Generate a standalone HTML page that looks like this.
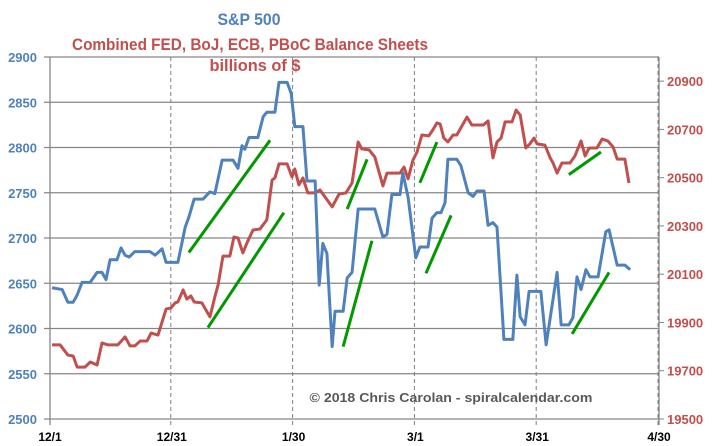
<!DOCTYPE html>
<html><head><meta charset="utf-8"><style>
html,body{margin:0;padding:0;background:#fff;}
svg{display:block;font-family:"Liberation Sans",sans-serif;}
</style></head><body>
<svg id="chart" width="724" height="446" viewBox="0 0 724 446">
<g id="grid"></g>
<g id="axes"></g>
<g id="series"></g>
<text x="249" y="25" text-anchor="middle" font-size="17" font-weight="bold" fill="#4f81bd" textLength="63" lengthAdjust="spacingAndGlyphs">S&amp;P 500</text>
<text x="250" y="50" text-anchor="middle" font-size="17" font-weight="bold" fill="#c0504d" textLength="356" lengthAdjust="spacingAndGlyphs">Combined FED, BoJ, ECB, PBoC Balance Sheets</text>
<text x="255" y="71" text-anchor="middle" font-size="17" font-weight="bold" fill="#c0504d" textLength="91" lengthAdjust="spacingAndGlyphs">billions of $</text>
<text x="451" y="402" text-anchor="middle" font-size="13" font-weight="bold" fill="#595959" textLength="283" lengthAdjust="spacingAndGlyphs">© 2018 Chris Carolan - spiralcalendar.com</text>
</svg>
<script>
const leftTicks=[2500,2550,2600,2650,2700,2750,2800,2850,2900];
const rightTicks=[19500,19700,19900,20100,20300,20500,20700,20900];
const xTickLabels=["12/1","12/31","1/30","3/1","3/31","4/30"];
const xTickDays=[0,30,60,90,120,150];
const spDays=[0.5,3,4.4,5.7,6.7,7.9,9.9,11.6,12.8,13.8,14.8,16.5,17.5,18.5,19.5,20.9,24.6,25.9,27.6,28.6,31.5,33.3,34.2,35.5,37.7,39.4,40.6,42.4,45.1,46.3,47.3,48,49,51.2,52.5,53.4,55.4,56.4,58.4,59.4,60.3,62.3,63.3,65.3,66.3,67.2,68.2,69.5,70.2,72.2,73.2,74.4,75.9,80,82,83,84.2,86.2,86.9,88.2,90.1,91.1,93.1,94.1,95.3,96.3,97.3,98,100.2,101.2,103,104.2,105.2,106.9,107.9,109.1,110.1,111.8,114,115,115.8,117,118,120.9,122.2,124.9,125.9,127.8,128.8,129.8,130.8,132,133,135,136.9,137.7,139.7,141.6,142.9];
const spValues=[2645,2643,2629,2629,2637,2651,2651,2662,2662,2654,2676,2676,2689,2681,2679,2685,2685,2681,2688,2673,2673,2712,2723,2743,2743,2751,2749,2786,2786,2777,2802,2798,2811,2811,2834,2839,2839,2872,2872,2860,2823,2823,2763,2763,2648,2694,2683,2580,2619,2619,2656,2662,2732,2732,2701,2704,2748,2748,2772,2745,2678,2690,2690,2722,2728,2728,2739,2787,2787,2780,2750,2746,2752,2752,2714,2717,2712,2588,2588,2659,2613,2604,2641,2641,2582,2662,2604,2604,2612,2657,2643,2665,2657,2657,2707,2709,2670,2670,2665];
const cbDays=[0.5,2.5,4.4,5.7,6.7,8.6,9.9,11.6,12.8,14.3,16.7,18.5,19.7,20.9,22.2,23.9,24.9,26.6,28.6,29.8,30.8,31.5,32.8,33.7,34.7,35.5,37.4,39.4,40.6,41.4,42.6,44.3,45.3,46.3,47.5,48.5,50,51.7,53.4,54.7,55.4,56.4,58.4,59.6,60.3,61.3,62.3,63.5,65.3,66.5,69.5,71.2,72.9,74.4,75.9,76.8,78.6,80,82,83,86.2,87.2,88.2,89.4,90.4,91.6,93.3,94.3,95.3,96.1,97,98,99.3,100.2,102.7,103.9,106.7,107.9,109.1,110.1,111.1,112.1,113.8,114.8,115.8,117.2,118.2,119.2,120,121.9,123.2,123.9,124.9,126.1,128.1,129.3,130.8,131.8,132.8,134.7,136,137.4,138.7,139.7,141.6,142.6];
const cbValues=[19807,19807,19765,19761,19715,19715,19736,19724,19815,19807,19807,19840,19803,19803,19823,19823,19856,19848,19956,19960,19981,19985,20035,19997,20010,19985,19981,19923,20006,20055,20175,20175,20254,20250,20188,20229,20283,20287,20325,20490,20499,20557,20557,20503,20536,20470,20499,20437,20437,20449,20379,20432,20437,20478,20648,20619,20615,20586,20466,20519,20519,20544,20495,20573,20606,20677,20673,20698,20727,20722,20664,20648,20677,20677,20751,20718,20718,20735,20582,20648,20664,20731,20731,20780,20760,20623,20640,20664,20640,20635,20582,20561,20519,20561,20561,20590,20652,20590,20623,20623,20660,20652,20627,20577,20577,20478];
const trendStartDays=[34.2,38.9,73.2,72.2,91.1,92.6,127.8,128.6];
const trendStartValues=[2684,2601,2732,2580,2761,2661,2770,2594];
const trendEndDays=[54.2,57.6,78.1,79.3,95.3,98.8,135.7,137.7];
const trendEndValues=[2808,2728,2787,2697,2806,2725,2795,2662];

const X0=50,X1=659,YT=57,YB=419;
const xs=d=>X0+(X1-X0)*d/150;
const yl=v=>YB-(YB-YT)*(v-2500)/400;
const yr=v=>YB-(YB-YT)*(v-19500)/1500;
const NS="http://www.w3.org/2000/svg";
function mk(parent,tag,attrs){const e=document.createElementNS(NS,tag);for(const k in attrs)e.setAttribute(k,attrs[k]);document.getElementById(parent).appendChild(e);return e;}

leftTicks.forEach(v=>{
  const l=mk('grid','line',{x1:44,x2:X1,y1:yl(v),y2:yl(v),stroke:'#868686','stroke-width':1.3});
  
  
  const t=mk('axes','text',{x:37,y:yl(v)+5,'text-anchor':'end','font-size':13,'font-weight':'bold',fill:'#4f81bd'});
  t.textContent=v;
  
  
});
rightTicks.forEach(v=>{
  const l=mk('axes','line',{x1:X1,x2:X1+5,y1:yr(v),y2:yr(v),stroke:'#868686','stroke-width':1});
  
  
  const t=mk('axes','text',{x:667,y:yr(v)+5,'font-size':13,'font-weight':'bold',fill:'#c0504d'});
  t.textContent=v;
  
  
});
xTickDays.forEach((d,i)=>{
  if(i>0){const l=mk('grid','line',{x1:xs(d)-1,x2:xs(d)-1,y1:YT,y2:YB+6,stroke:'#7f7f7f','stroke-width':1,'stroke-dasharray':'4,3'});
  
  }
  const t=mk('axes','text',{x:xs(d),y:441,'text-anchor':'middle','font-size':12,'font-weight':'bold',fill:'#000'});
  t.textContent=xTickLabels[i];
  
  
});
let a=mk('axes','line',{x1:X0,x2:X0,y1:YT,y2:YB+6,stroke:'#868686','stroke-width':1.3});


a=mk('axes','line',{x1:X1,x2:X1,y1:YT,y2:YB+6,stroke:'#868686','stroke-width':1.3});



let p=mk('series','polyline',{points:cbDays.map((d,i)=>xs(d)+','+yr(cbValues[i])).join(' '),fill:'none',stroke:'#c0504d','stroke-width':3,'stroke-linejoin':'round'});


p=mk('series','polyline',{points:spDays.map((d,i)=>xs(d)+','+yl(spValues[i])).join(' '),fill:'none',stroke:'#4f81bd','stroke-width':3,'stroke-linejoin':'round'});


trendStartDays.forEach((d,i)=>{
  const l=mk('series','line',{x1:xs(d),y1:yl(trendStartValues[i]),x2:xs(trendEndDays[i]),y2:yl(trendEndValues[i]),stroke:'#009900','stroke-width':3});
  
  
});
</script>
</body></html>
